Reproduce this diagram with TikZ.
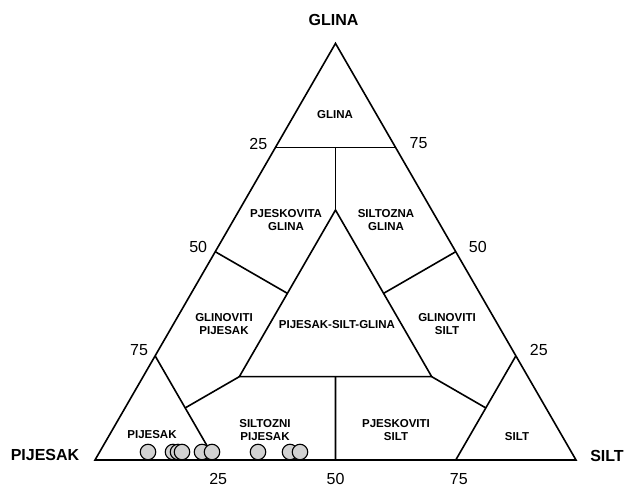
\documentclass[tikz,border=0pt]{standalone}
\usepackage{fontspec}
\setmainfont{Liberation Sans}

\tikzset{
  zone/.style={font=\bfseries\fontsize{11.5}{13.3}\selectfont, align=center, inner sep=0pt},
  corner/.style={font=\bfseries\fontsize{16}{19}\selectfont, inner sep=0pt},
  tick/.style={font=\fontsize{16}{19}\selectfont, inner sep=0pt},
  sample/.style={circle, draw, fill=gray!35, line width=1.1pt, minimum size=15.5pt, inner sep=0pt},
}

\begin{document}
\begin{tikzpicture}[x=1pt, y=-1pt, line width=1.6pt]
        \useasboundingbox (0,0) rectangle (627,487);

        % Corners of the triangle
        \coordinate (P) at (95,460);
        \coordinate (S) at (576,460);
        \coordinate (G) at (335.5,43.4);

        % Points on the sides
        \coordinate (l25) at (barycentric cs:P=0.25,G=0.75);
        \coordinate (l50) at (barycentric cs:P=0.5,G=0.5);
        \coordinate (l75) at (barycentric cs:P=0.75,G=0.25);
        \coordinate (r75) at (barycentric cs:S=0.25,G=0.75);
        \coordinate (r50) at (barycentric cs:S=0.5,G=0.5);
        \coordinate (r25) at (barycentric cs:S=0.75,G=0.25);
        \coordinate (b25) at (barycentric cs:P=0.75,S=0.25);
        \coordinate (b50) at (barycentric cs:P=0.5,S=0.5);
        \coordinate (b75) at (barycentric cs:P=0.25,S=0.75);

        % Inner triangle and the ends of the dividing lines
        \coordinate (iT) at (barycentric cs:P=0.2,S=0.2,G=0.6);
        \coordinate (iL) at (barycentric cs:P=0.6,S=0.2,G=0.2);
        \coordinate (iR) at (barycentric cs:P=0.2,S=0.6,G=0.2);
        \coordinate (mT) at (barycentric cs:P=0.125,S=0.125,G=0.75);
        \coordinate (mL) at (barycentric cs:P=0.4,S=0.2,G=0.4);
        \coordinate (mR) at (barycentric cs:P=0.2,S=0.4,G=0.4);
        \coordinate (mB) at (barycentric cs:P=0.4,S=0.4,G=0.2);
        \coordinate (mP) at (barycentric cs:P=0.75,S=0.125,G=0.125);
        \coordinate (mS) at (barycentric cs:P=0.125,S=0.75,G=0.125);

        % Draw the triangle
        \draw (P) -- (S) -- (G) -- cycle;
        \draw (l25) -- (r75);
        \draw (l75) -- (b25);
        \draw (r25) -- (b75);
        \draw (iT) -- (iL) -- (iR) -- cycle;

        % Dividing lines
        \draw (mT) -- (iT);
        \draw (l50) -- (mL);
        \draw (r50) -- (mR);
        \draw (b50) -- (mB);
        \draw (mP) -- (iL);
        \draw (mS) -- (iR);

        % Corner labels
        \node[corner] (cG) at ([xshift=-2pt,yshift=23pt]G) {GLINA};
        \node[corner] (cP) at ([xshift=-50pt,yshift=5pt]P) {PIJESAK};
        \node[corner] (cS) at ([xshift=31pt,yshift=4pt]S) {SILT};

        % Scale values
        \node[tick] (tl25) at ([xshift=-17pt,yshift=4pt]l25) {25};
        \node[tick] (tl50) at ([xshift=-17pt,yshift=5pt]l50) {50};
        \node[tick] (tl75) at ([xshift=-16pt,yshift=6pt]l75) {75};
        \node[tick] (tr75) at ([xshift=23pt,yshift=4pt]r75) {75};
        \node[tick] (tr50) at ([xshift=22pt,yshift=5pt]r50) {50};
        \node[tick] (tr25) at ([xshift=23pt,yshift=6pt]r25) {25};
        \node[tick] (tb25) at ([xshift=3pt,yshift=-19pt]b25) {25};
        \node[tick] (tb50) at ([xshift=0pt,yshift=-19pt]b50) {50};
        \node[tick] (tb75) at ([xshift=3pt,yshift=-19pt]b75) {75};

        % Zone names
        \node[zone] (zG) at (335,115) {GLINA};
        \node[zone] (zPG) at (286,220) {PJESKOVITA\\GLINA};
        \node[zone] (zSG) at (386,220) {SILTOZNA\\GLINA};
        \node[zone] (zGP) at (224,324) {GLINOVITI\\PIJESAK};
        \node[zone] (zPSG) at (337,325) {PIJESAK-SILT-GLINA};
        \node[zone] (zGS) at (447,324) {GLINOVITI\\SILT};
        \node[zone] (zP) at (152,435) {PIJESAK};
        \node[zone] (zSP) at (265,430) {SILTOZNI\\PIJESAK};
        \node[zone] (zPS) at (396,430) {PJESKOVITI\\SILT};
        \node[zone] (zS) at (517,437) {SILT};

        % Samples
        \foreach \px [count=\i] in {148,173,178,182,202,212,258,290,300}
            \node[sample] (s\i) at (\px,452) {};
\end{tikzpicture}
\end{document}
